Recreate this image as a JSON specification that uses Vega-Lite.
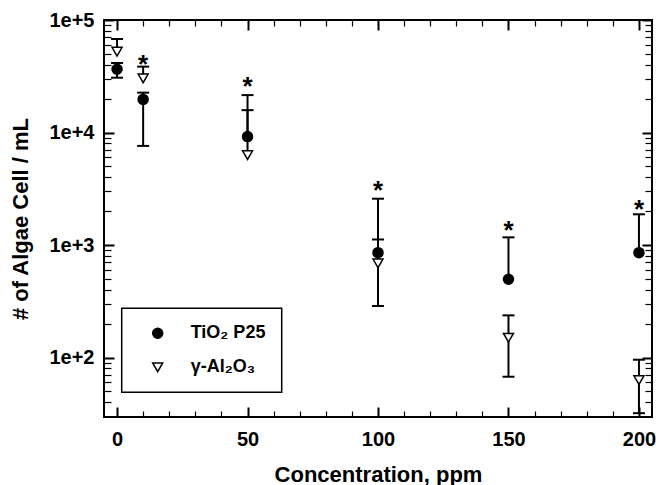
{
  "$schema": "https://vega.github.io/schema/vega-lite/v6.json",
  "width": 548,
  "height": 397,
  "autosize": "none",
  "padding": {"left": 104, "top": 20, "right": 4, "bottom": 68},
  "background": "white",
  "datasets": {
    "pts": [
      {"series": "TiO₂ P25", "conc": 0, "cells": 36500},
      {"series": "TiO₂ P25", "conc": 10, "cells": 19700},
      {"series": "TiO₂ P25", "conc": 50, "cells": 9200},
      {"series": "TiO₂ P25", "conc": 100, "cells": 855},
      {"series": "TiO₂ P25", "conc": 150, "cells": 496},
      {"series": "TiO₂ P25", "conc": 200, "cells": 855},
      {"series": "γ-Al₂O₃", "conc": 0, "cells": 52300},
      {"series": "γ-Al₂O₃", "conc": 10, "cells": 30300},
      {"series": "γ-Al₂O₃", "conc": 50, "cells": 6300},
      {"series": "γ-Al₂O₃", "conc": 100, "cells": 687},
      {"series": "γ-Al₂O₃", "conc": 150, "cells": 150},
      {"series": "γ-Al₂O₃", "conc": 200, "cells": 63}
    ],
    "bars": [
      {"series": "TiO₂ P25", "conc": 0, "lo": 30700, "hi": 41500},
      {"series": "TiO₂ P25", "conc": 10, "lo": 7600, "hi": 22600},
      {"series": "TiO₂ P25", "conc": 50, "lo": 9200, "hi": 15800},
      {"series": "TiO₂ P25", "conc": 100, "lo": 855, "hi": 2580},
      {"series": "TiO₂ P25", "conc": 150, "lo": 496, "hi": 1170},
      {"series": "TiO₂ P25", "conc": 200, "lo": 855, "hi": 1875},
      {"series": "γ-Al₂O₃", "conc": 0, "lo": 52300, "hi": 67800},
      {"series": "γ-Al₂O₃", "conc": 10, "lo": 30300, "hi": 38500},
      {"series": "γ-Al₂O₃", "conc": 50, "lo": 6300, "hi": 21500},
      {"series": "γ-Al₂O₃", "conc": 100, "lo": 287, "hi": 1120},
      {"series": "γ-Al₂O₃", "conc": 150, "lo": 67.5, "hi": 237},
      {"series": "γ-Al₂O₃", "conc": 200, "lo": 32, "hi": 95.6}
    ],
    "caps": [
      {"conc": 0, "v": 30700}, {"conc": 0, "v": 41500}, {"conc": 0, "v": 67800},
      {"conc": 10, "v": 7600}, {"conc": 10, "v": 22600}, {"conc": 10, "v": 38500},
      {"conc": 50, "v": 15800}, {"conc": 50, "v": 21500},
      {"conc": 100, "v": 2580}, {"conc": 100, "v": 1120}, {"conc": 100, "v": 287},
      {"conc": 150, "v": 1170}, {"conc": 150, "v": 237}, {"conc": 150, "v": 67.5},
      {"conc": 200, "v": 1875}, {"conc": 200, "v": 95.6}, {"conc": 200, "v": 32}
    ],
    "stars": [
      {"conc": 10, "v": 45600},
      {"conc": 50, "v": 29300},
      {"conc": 100, "v": 3475},
      {"conc": 150, "v": 1530},
      {"conc": 200, "v": 2340}
    ]
  },
  "resolve": {"axis": {"x": "independent", "y": "independent"}},
  "layer": [
    {
      "data": {"name": "bars"},
      "mark": {"type": "rule", "color": "black", "strokeWidth": 2},
      "encoding": {
        "x": {"field": "conc", "type": "quantitative",
          "scale": {"domain": [-5, 205], "nice": false, "zero": false},
          "axis": {"orient": "bottom", "title": "Concentration, ppm", "zindex": 1,
            "values": [0, 50, 100, 150, 200], "offset": -10,
            "ticks": true, "tickSize": 10, "tickWidth": 2, "tickColor": "black", "tickOpacity": 1,
            "labelPadding": 12, "titlePadding": 15, "labelFlush": false, "labelOverlap": false}},
        "y": {"field": "lo", "type": "quantitative",
          "scale": {"type": "log", "domain": [29.6, 100000], "nice": false},
          "axis": {"orient": "left", "title": "# of Algae Cell / mL", "zindex": 1,
            "values": [100, 1000, 10000, 100000], "offset": -10,
            "labelExpr": "datum.value == 100 ? '1e+2' : datum.value == 1000 ? '1e+3' : datum.value == 10000 ? '1e+4' : '1e+5'",
            "ticks": true, "tickSize": 10, "tickWidth": 2, "tickColor": "black", "tickOpacity": 1,
            "labelPadding": 10, "titlePadding": 16, "labelFlush": false, "labelOverlap": false}},
        "y2": {"field": "hi"}
      }
    },
    {
      "data": {"name": "caps"},
      "mark": {"type": "tick", "orient": "horizontal", "color": "black", "size": 12, "thickness": 2, "opacity": 1},
      "encoding": {
        "x": {"field": "conc", "type": "quantitative",
          "scale": {"domain": [-5, 205], "nice": false, "zero": false},
          "axis": {"orient": "top", "title": null, "labels": false, "offset": -10, "zindex": 1,
            "values": [0, 50, 100, 150, 200],
            "ticks": true, "tickSize": 10, "tickWidth": 2, "tickColor": "black", "tickOpacity": 1}},
        "y": {"field": "v", "type": "quantitative",
          "scale": {"type": "log", "domain": [29.6, 100000], "nice": false},
          "axis": {"orient": "right", "title": null, "labels": false, "offset": -10, "zindex": 1,
            "values": [100, 1000, 10000, 100000],
            "ticks": true, "tickSize": 10, "tickWidth": 2, "tickColor": "black", "tickOpacity": 1}}
      }
    },
    {
      "data": {"name": "stars"},
      "mark": {"type": "text", "text": "*", "font": "Liberation Sans", "fontWeight": "bold", "fontSize": 26, "baseline": "alphabetic", "dy": 15, "color": "black"},
      "encoding": {
        "x": {"field": "conc", "type": "quantitative",
          "axis": {"orient": "bottom", "title": null, "labels": false, "offset": -6, "zindex": 1,
            "values": [10,20,30,40,60,70,80,90,110,120,130,140,160,170,180,190],
            "ticks": true, "tickSize": 6, "tickWidth": 1.2, "tickColor": "black", "tickOpacity": 1}},
        "y": {"field": "v", "type": "quantitative",
          "axis": {"orient": "left", "title": null, "labels": false, "offset": -7, "zindex": 1,
            "values": [40,50,60,70,80,90,200,300,400,500,600,700,800,900,2000,3000,4000,5000,6000,7000,8000,9000,20000,30000,40000,50000,60000,70000,80000,90000],
            "ticks": true, "tickSize": 7, "tickWidth": 1.2, "tickColor": "black", "tickOpacity": 1}}
      }
    },
    {
      "data": {"name": "pts"},
      "mark": {"type": "point", "filled": true, "strokeWidth": 1.5, "size": 100, "opacity": 1},
      "encoding": {
        "x": {"field": "conc", "type": "quantitative",
          "axis": {"orient": "top", "title": null, "labels": false, "offset": -6, "zindex": 1,
            "values": [10,20,30,40,60,70,80,90,110,120,130,140,160,170,180,190],
            "ticks": true, "tickSize": 6, "tickWidth": 1.2, "tickColor": "black", "tickOpacity": 1}},
        "y": {"field": "cells", "type": "quantitative",
          "axis": {"orient": "right", "title": null, "labels": false, "offset": -7, "zindex": 1,
            "values": [40,50,60,70,80,90,200,300,400,500,600,700,800,900,2000,3000,4000,5000,6000,7000,8000,9000,20000,30000,40000,50000,60000,70000,80000,90000],
            "ticks": true, "tickSize": 7, "tickWidth": 1.2, "tickColor": "black", "tickOpacity": 1}},
        "stroke": {"field": "series", "type": "nominal",
          "scale": {"domain": ["TiO₂ P25", "γ-Al₂O₃"], "range": ["black", "black"]},
          "legend": {"title": null}},
        "shape": {"field": "series", "type": "nominal",
          "scale": {"domain": ["TiO₂ P25", "γ-Al₂O₃"], "range": ["circle", "triangle-down"]},
          "legend": {"title": null}},
        "fill": {"field": "series", "type": "nominal",
          "scale": {"domain": ["TiO₂ P25", "γ-Al₂O₃"], "range": ["black", "white"]},
          "legend": {"title": null}}
      }
    }
  ],
  "config": {
    "view": {"stroke": "black", "strokeWidth": 2},
    "axis": {
      "domain": false, "grid": false,
      "labelFont": "Liberation Sans", "labelFontWeight": "bold", "labelFontSize": 20, "labelColor": "black",
      "titleFont": "Liberation Sans", "titleFontWeight": "bold", "titleFontSize": 22, "titleColor": "black"
    },
    "legend": {
      "orient": "none", "legendX": 17.7, "legendY": 288.3,
      "strokeColor": "black", "strokeWidth": 1.5, "padding": 16, "fillColor": "white",
      "labelFont": "Liberation Sans", "labelFontWeight": "bold", "labelFontSize": 18, "labelColor": "black",
      "symbolSize": 100, "symbolStrokeWidth": 1.5, "symbolOffset": 11,
      "labelOffset": 24, "rowPadding": 16
    }
  }
}
